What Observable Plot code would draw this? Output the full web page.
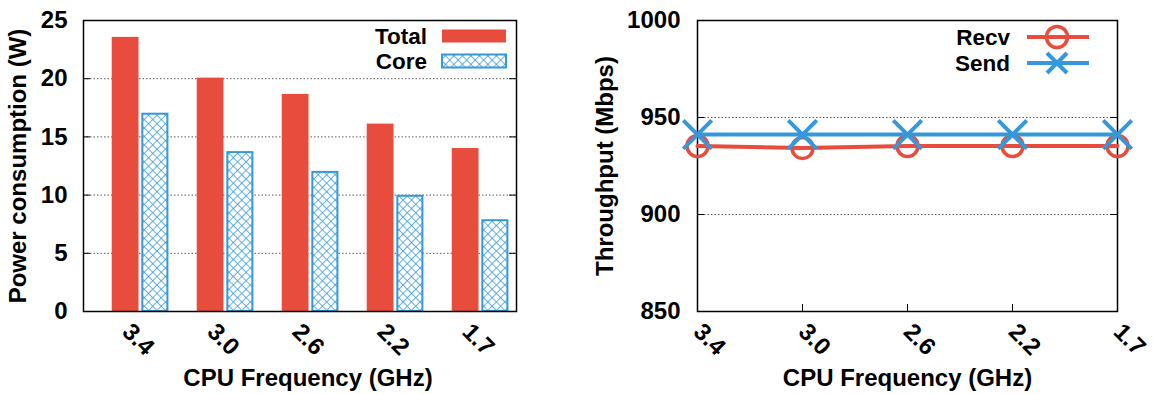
<!DOCTYPE html>
<html><head><meta charset="utf-8">
<script src="https://cdn.jsdelivr.net/npm/d3@7"></script>
<script src="https://cdn.jsdelivr.net/npm/@observablehq/plot@0.6"></script>
<style>
body{margin:0;background:#fff;}
#wrap{position:relative;width:1153px;height:394px;overflow:hidden;font-family:"Liberation Sans",Arial,sans-serif;}
.panel{position:absolute;top:0;}
#legend{position:absolute;left:0;top:0;pointer-events:none;}
</style></head><body>
<svg width="0" height="0" style="position:absolute"><defs>
<pattern id="xhatch" patternUnits="userSpaceOnUse" width="6" height="6" patternTransform="rotate(45)">
<rect width="6" height="6" fill="#fff"/>
<path d="M0,0H6M0,0V6" stroke="#3498db" stroke-width="1.5" fill="none"/>
</pattern></defs></svg>
<div id="wrap">
<div id="left" class="panel" style="left:0"></div>
<div id="right" class="panel" style="left:576px"></div>
</div>
<script>
const frequencies = ["3.4", "3.0", "2.6", "2.2", "1.7"];
const totalPower = [23.55, 20.05, 18.65, 16.1, 14.0];
const corePower = [16.95, 13.65, 11.95, 9.9, 7.8];
const recvThroughput = [935.3, 934.3, 935.3, 935.3, 935.3];
const sendThroughput = [941.2, 941.2, 941.2, 941.2, 941.2];
const powerTicks = [0, 5, 10, 15, 20, 25];
const throughputTicks = [850, 900, 950, 1000];
const seriesBars = ["Total", "Core"];
const seriesLines = ["Recv", "Send"];

const RED = "#e74c3c", BLUE = "#3498db";
const FS = 24, LFS = 22.5;
const FONT = {fontFamily: "'Liberation Sans', Arial, sans-serif", fontSize: FS + "px", fontWeight: "bold", color: "#000", background: "transparent"};
const H = 394, MT = 20, MB = 83;
const txt = {fontSize: FS, fontWeight: "bold", fill: "#000"};

// ---------- left: power bars ----------
const barRows = frequencies.flatMap((f, i) => [
  {i, series: seriesBars[0], value: totalPower[i]},
  {i, series: seriesBars[1], value: corePower[i]}
]);
const LW = 576, LML = 83, LMR = 60;
const leftFrameW = LW - LML - LMR;
const left = Plot.plot({
  width: LW, height: H, marginLeft: LML, marginRight: LMR, marginTop: MT, marginBottom: MB,
  style: FONT,
  x: {type: "linear", domain: [-0.668, 4.426], axis: null},
  y: {domain: [0, 25], axis: null},
  marks: [
    Plot.ruleY(powerTicks.slice(1, -1), {stroke: "#555", strokeWidth: 1, strokeDasharray: "1.5,2"}),
    Plot.rect(barRows.filter(d => d.series === "Total"), {x1: d => d.i - 0.33, x2: d => d.i - 0.015, y1: 0, y2: "value", fill: RED}),
    Plot.rect(barRows.filter(d => d.series === "Core"), {x1: d => d.i + 0.03, x2: d => d.i + 0.325, y1: 0, y2: "value", fill: "url(#xhatch)", stroke: BLUE, strokeWidth: 2}),
    Plot.tickY(powerTicks, {y: d => d, insetRight: leftFrameW - 7, stroke: "#000", strokeWidth: 1}),
    Plot.tickY(powerTicks, {y: d => d, insetLeft: leftFrameW - 7, stroke: "#000", strokeWidth: 1}),
    Plot.frame({stroke: "#000", strokeWidth: 1.5}),
    Plot.axisY({ticks: powerTicks, tickSize: 0, tickPadding: 16, label: null, tickFormat: d => String(d), ...txt}),
    Plot.text(frequencies, {x: (d, i) => i, text: d => d, frameAnchor: "bottom", dy: 28, dx: -2, rotate: 45, textAnchor: "middle", lineAnchor: "middle", ...txt}),
    Plot.text(["CPU Frequency (GHz)"], {frameAnchor: "bottom", dy: 67, dx: 8, textAnchor: "middle", lineAnchor: "middle", ...txt}),
    Plot.text(["Power consumption (W)"], {frameAnchor: "left", dx: -65, rotate: -90, textAnchor: "middle", lineAnchor: "middle", ...txt})
  ]
});
document.getElementById("left").append(left);

// ---------- right: throughput lines ----------
const RW = 577, RML = 121, RMR = 36;
const rightFrameW = RW - RML - RMR;
const right = Plot.plot({
  width: RW, height: H, marginLeft: RML, marginRight: RMR, marginTop: MT, marginBottom: MB,
  style: FONT,
  x: {type: "linear", domain: [0, 4], axis: null},
  y: {domain: [850, 1000], axis: null},
  marks: [
    Plot.ruleY(throughputTicks.slice(1, -1), {stroke: "#555", strokeWidth: 1, strokeDasharray: "1.5,2"}),
    Plot.tickY(throughputTicks, {y: d => d, insetRight: rightFrameW - 7, stroke: "#000", strokeWidth: 1}),
    Plot.tickY(throughputTicks, {y: d => d, insetLeft: rightFrameW - 7, stroke: "#000", strokeWidth: 1}),
    Plot.tickX(frequencies, {x: (d, i) => i, insetTop: 291 - 7, stroke: "#000", strokeWidth: 1}),
    Plot.frame({stroke: "#000", strokeWidth: 1.5}),
    Plot.line(recvThroughput, {x: (d, i) => i, y: d => d, stroke: RED, strokeWidth: 4}),
    Plot.dot(recvThroughput, {x: (d, i) => i, y: d => d, r: 10.5, stroke: RED, strokeWidth: 3.5, fill: "none"}),
    Plot.line(sendThroughput, {x: (d, i) => i, y: d => d, stroke: BLUE, strokeWidth: 4}),
    Plot.dot(sendThroughput, {x: (d, i) => i, y: d => d, symbol: "times", r: 13, stroke: BLUE, strokeWidth: 4}),
    Plot.axisY({ticks: throughputTicks, tickSize: 0, tickPadding: 17, label: null, tickFormat: d => String(d), ...txt}),
    Plot.text(frequencies, {x: (d, i) => i, text: d => d, frameAnchor: "bottom", dy: 28, dx: 12, rotate: 45, textAnchor: "middle", lineAnchor: "middle", ...txt}),
    Plot.text(["CPU Frequency (GHz)"], {frameAnchor: "bottom", dy: 67, textAnchor: "middle", lineAnchor: "middle", ...txt}),
    Plot.text(["Throughput (Mbps)"], {frameAnchor: "left", dx: -92, rotate: -90, textAnchor: "middle", lineAnchor: "middle", ...txt})
  ]
});
document.getElementById("right").append(right);

// ---------- legends (overlay) ----------
const leg = d3.select("#wrap").append("svg").attr("id", "legend").attr("width", 1153).attr("height", H)
  .style("font-family", "'Liberation Sans', Arial, sans-serif").style("font-size", LFS + "px").style("font-weight", "bold");
[[seriesBars[0], 36, RED, null], [seriesBars[1], 61, "url(#xhatch)", BLUE]].forEach(([name, cy, fill, stroke]) => {
  leg.append("text").attr("x", 427).attr("y", cy).attr("dy", "0.36em").attr("text-anchor", "end").text(name);
  leg.append("rect").attr("x", 442).attr("y", cy - 6.5).attr("width", 64).attr("height", 13)
    .attr("fill", fill).attr("stroke", stroke || "none").attr("stroke-width", 2);
});
leg.append("text").attr("x", 1010).attr("y", 37).attr("dy", "0.36em").attr("text-anchor", "end").text(seriesLines[0]);
leg.append("line").attr("x1", 1027).attr("x2", 1089).attr("y1", 37).attr("y2", 37).attr("stroke", RED).attr("stroke-width", 4);
leg.append("circle").attr("cx", 1057).attr("cy", 37).attr("r", 10.5).attr("fill", "none").attr("stroke", RED).attr("stroke-width", 3.5);
leg.append("text").attr("x", 1010).attr("y", 63).attr("dy", "0.36em").attr("text-anchor", "end").text(seriesLines[1]);
leg.append("line").attr("x1", 1027).attr("x2", 1089).attr("y1", 63).attr("y2", 63).attr("stroke", BLUE).attr("stroke-width", 4);
leg.append("path").attr("d", "M1047,53L1067,73M1067,53L1047,73").attr("stroke", BLUE).attr("stroke-width", 4);
</script>
</body></html>
